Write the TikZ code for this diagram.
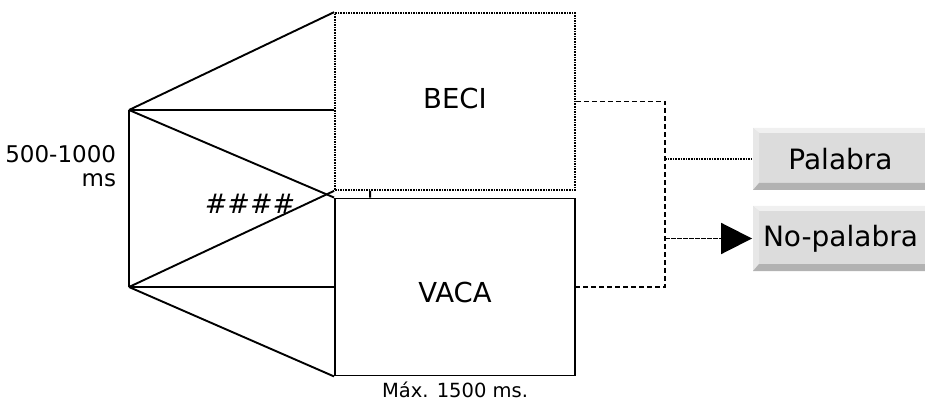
\documentclass[tikz,border=0pt]{standalone}
\usepackage{fontspec}
\setmainfont{DejaVu Sans}
\usetikzlibrary{arrows.meta}
\definecolor{btnFace}{HTML}{DCDCDC}
\definecolor{btnLight}{HTML}{F0F0F0}
\definecolor{btnDark}{HTML}{B2B2B2}

\begin{document}
\begin{tikzpicture}[x=1pt,y=-1pt,line width=1.9pt,
  stimbox/.style={draw,minimum width=240pt,minimum height=177pt,inner sep=0pt},
  dotline/.style={line width=1.7pt,dash pattern=on 1.6pt off 1pt},
  bigtext/.style={font=\fontsize{27.5}{32}\selectfont},
  respbtn/.style={font=\fontsize{28}{32}\selectfont,minimum width=175pt,
    inner sep=0pt,fill=btnFace,
    path picture={
      \fill[btnLight] (path picture bounding box.north west)
        -- (path picture bounding box.north east)
        -- ([yshift=-5pt]path picture bounding box.north east)
        -- ([shift={(6pt,-5pt)}]path picture bounding box.north west) -- cycle;
      \fill[btnLight!96!black] (path picture bounding box.north west)
        -- ([shift={(6pt,-5pt)}]path picture bounding box.north west)
        -- ([shift={(6pt,7pt)}]path picture bounding box.south west)
        -- (path picture bounding box.south west) -- cycle;
      \fill[btnDark] (path picture bounding box.south west)
        -- ([shift={(6pt,7pt)}]path picture bounding box.south west)
        -- ([yshift=7pt]path picture bounding box.south east)
        -- (path picture bounding box.south east) -- cycle;}}]
  \useasboundingbox (0,0) rectangle (925,403);

  % stimulus screens
  \node[stimbox,dotline,
    label={[bigtext,yshift=3pt]center:BECI}] (beci) at (455,101.5) {};
  \node[stimbox,
    label={[bigtext,yshift=-5pt]center:VACA}] (vaca) at (455,287) {};
  \coordinate (fixA) at (129,110);
  \coordinate (fixB) at (129,287);

  \draw (fixA) -- (fixB);
  \draw (fixA) -- (beci.north west);
  \draw (fixA) -- (fixA -| beci.west);
  \draw (fixA) -- (vaca.north west);
  \draw (fixB) -- (beci.south west);
  \draw (fixB) -- (fixB -| vaca.west);
  \draw (fixB) -- (vaca.south west);
  \draw ([xshift=36pt]beci.south west) -- ([xshift=36pt]vaca.north west);

  \node[font=\fontsize{23}{24}\selectfont,align=right,anchor=east,inner sep=0pt]
    (soa) at (117,166) {500-1000\\ms};
  \node[font=\fontsize{27}{30}\selectfont\itshape] (mask) at (250,204) {\#\#\#\#};
  \node[font=\fontsize{19.5}{22}\selectfont,anchor=base,inner sep=0pt]
    (tmax) at (455,397) {Máx. 1500 ms.};

  % responses
  \node[respbtn,minimum height=62pt] (pal) at (840.5,159) {Palabra};
  \node[respbtn,minimum height=65pt] (nopal) at (840.5,238.5) {No-palabra};
  \coordinate (jx) at (665,0);

  \draw[dash pattern=on 5pt off 3pt] (beci.east) -- (beci.east -| jx)
    -- (vaca.east -| jx) -- (vaca.east);
  \draw[dotline] (pal.west -| jx) -- (pal.west);
  \draw[dash pattern=on 5pt off 1pt,-{Triangle[length=31pt,width=31pt]}]
    (nopal.west -| jx) -- (nopal.west);
\end{tikzpicture}
\end{document}
